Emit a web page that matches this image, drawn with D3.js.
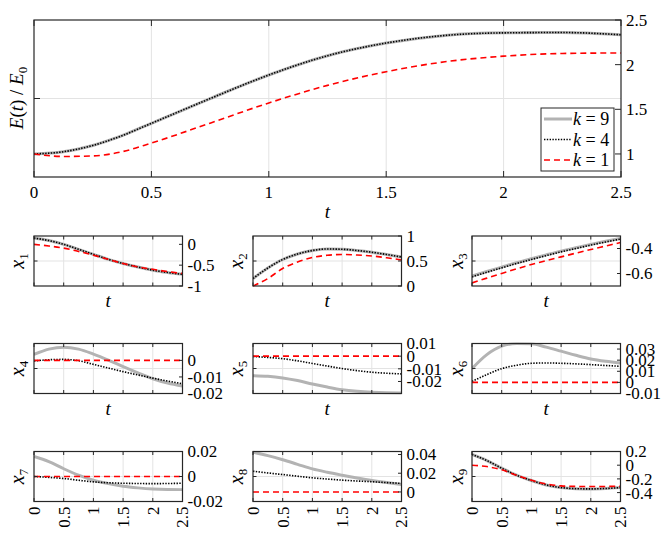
<!DOCTYPE html>
<html>
<head>
<meta charset="utf-8">
<script src="https://cdn.jsdelivr.net/npm/d3@7"></script>
<style>
  body { margin: 0; background: #fff; }
  svg { display: block; }
  text { font-family: "Liberation Serif", "DejaVu Serif", serif; fill: #000; }
</style>
</head>
<body>
<svg id="fig" width="664" height="534"></svg>
<script>
// time grids
const tEnergy = [0, 0.125, 0.25, 0.375, 0.5, 0.75, 1, 1.25, 1.5, 1.75, 2, 2.25, 2.5];
const tGrid = [0, 0.25, 0.5, 0.75, 1, 1.25, 1.5, 1.75, 2, 2.25, 2.5];
const xTicks = [0, 0.5, 1, 1.5, 2, 2.5];

// energy ratio E(t)/E0
const energyK9 = [1.0, 1.025, 1.095, 1.205, 1.343, 1.62, 1.884, 2.10, 2.242, 2.327, 2.356, 2.36, 2.334];
const energyK4 = [1.0, 1.025, 1.095, 1.205, 1.343, 1.62, 1.884, 2.10, 2.242, 2.327, 2.356, 2.36, 2.334];
const energyK1 = [1.0, 0.972, 0.978, 1.025, 1.122, 1.345, 1.571, 1.768, 1.921, 2.032, 2.095, 2.125, 2.131];
const energyTicks = [1, 1.5, 2, 2.5];

// states x1..x9 for k = 9, 4, 1
const x1K9 = [0.15, 0.09, 0.0, -0.12, -0.24, -0.36, -0.46, -0.545, -0.62, -0.675, -0.72];
const x1K4 = [0.15, 0.09, 0.0, -0.12, -0.24, -0.36, -0.46, -0.545, -0.62, -0.675, -0.72];
const x1K1 = [0.0, -0.04, -0.09, -0.17, -0.26, -0.36, -0.46, -0.54, -0.6, -0.655, -0.70];

const x2K9 = [0.15, 0.36, 0.53, 0.64, 0.71, 0.74, 0.735, 0.71, 0.675, 0.63, 0.58];
const x2K4 = [0.15, 0.36, 0.53, 0.64, 0.71, 0.74, 0.735, 0.71, 0.675, 0.63, 0.58];
const x2K1 = [0.0, 0.15, 0.35, 0.48, 0.57, 0.615, 0.63, 0.62, 0.6, 0.565, 0.52];

const x3K9 = [-0.621, -0.584, -0.549, -0.514, -0.482, -0.451, -0.421, -0.394, -0.367, -0.342, -0.319];
const x3K4 = [-0.627, -0.59, -0.555, -0.52, -0.488, -0.457, -0.427, -0.40, -0.373, -0.348, -0.325];
const x3K1 = [-0.675, -0.637, -0.6, -0.563, -0.528, -0.497, -0.467, -0.437, -0.408, -0.38, -0.352];

const x4K9 = [0.0036, 0.0068, 0.008, 0.0068, 0.0038, 0.0002, -0.0038, -0.0076, -0.0111, -0.0137, -0.0155];
const x4K4 = [-0.0004, 0.0004, 0.0006, -0.0002, -0.0024, -0.0046, -0.0068, -0.0088, -0.0107, -0.0125, -0.0141];
const x4K1 = [0, 0, 0, 0, 0, 0, 0, 0, 0, 0, 0];

const x5K9 = [-0.0154, -0.0159, -0.0172, -0.0193, -0.022, -0.0244, -0.0265, -0.0278, -0.0286, -0.029, -0.0291];
const x5K4 = [-0.0003, -0.001, -0.002, -0.0037, -0.0058, -0.0078, -0.0098, -0.0114, -0.0127, -0.0135, -0.014];
const x5K1 = [0, 0, 0, 0, 0, 0, 0, 0, 0, 0, 0];

const x6K9 = [0.0124, 0.025, 0.0326, 0.035, 0.0347, 0.0317, 0.0281, 0.0244, 0.0211, 0.019, 0.0175];
const x6K4 = [0.0009, 0.007, 0.0124, 0.0154, 0.0172, 0.0175, 0.0172, 0.0167, 0.016, 0.0152, 0.0145];
const x6K1 = [0, 0, 0, 0, 0, 0, 0, 0, 0, 0, 0];

const x7K9 = [0.016, 0.0119, 0.0062, 0.0011, -0.003, -0.0057, -0.0078, -0.0091, -0.010, -0.0104, -0.0105];
const x7K4 = [0, -0.0007, -0.0016, -0.003, -0.0043, -0.005, -0.0054, -0.0056, -0.0057, -0.0056, -0.0054];
const x7K1 = [0, 0, 0, 0, 0, 0, 0, 0, 0, 0, 0];

const x8K9 = [0.0425, 0.0388, 0.0344, 0.0295, 0.0246, 0.021, 0.0179, 0.015, 0.0123, 0.010, 0.008];
const x8K4 = [0.0221, 0.0203, 0.0186, 0.0168, 0.0151, 0.0138, 0.0126, 0.0117, 0.0109, 0.010, 0.0091];
const x8K1 = [0, 0, 0, 0, 0, 0, 0, 0, 0, 0, 0];

const x9K9 = [0.156, 0.068, -0.044, -0.146, -0.224, -0.288, -0.327, -0.343, -0.346, -0.34, -0.327];
const x9K4 = [0.156, 0.068, -0.044, -0.146, -0.224, -0.288, -0.327, -0.343, -0.346, -0.34, -0.327];
const x9K1 = [0.0, -0.02, -0.068, -0.146, -0.22, -0.273, -0.302, -0.31, -0.312, -0.31, -0.307];

// y limits and labelled ticks of each small panel
const stateDomains = [[-1, 0.2], [0, 1], [-0.7, -0.3], [-0.02, 0.0102], [-0.0295, 0.01],
                      [-0.01, 0.035], [-0.02, 0.02], [-0.0102, 0.0432], [-0.53, 0.2]];
const stateTicks = [[-1, -0.5, 0], [0, 0.5, 1], [-0.6, -0.4], [-0.02, -0.01, 0], [-0.02, -0.01, 0, 0.01],
                    [-0.01, 0, 0.01, 0.02, 0.03], [-0.02, 0, 0.02], [0, 0.02, 0.04], [-0.4, -0.2, 0, 0.2]];
const stateSeries = [[x1K9, x1K4, x1K1], [x2K9, x2K4, x2K1], [x3K9, x3K4, x3K1],
                     [x4K9, x4K4, x4K1], [x5K9, x5K4, x5K1], [x6K9, x6K4, x6K1],
                     [x7K9, x7K4, x7K1], [x8K9, x8K4, x8K1], [x9K9, x9K4, x9K1]];

const legendLabels = ['9', '4', '1'];

// line styles for k = 9, 4, 1
const styles = [
  { stroke: '#b3b3b3', width: 3, dash: null },
  { stroke: '#000', width: 1.6, dash: '1.4,1.4' },
  { stroke: '#ff0000', width: 1.6, dash: '6,4' }
];

const svg = d3.select('#fig');
const fmt = d => String(+d.toFixed(4));
let clipId = 0;

const panel = (p) => {
  const x = d3.scaleLinear().domain([0, 2.5]).range([p.left, p.left + p.w]);
  const y = d3.scaleLinear().domain(p.domain).range([p.top + p.h, p.top]);
  const yLeft = d3.scaleLinear().domain([0, 1]).range([p.top + p.h, p.top]);
  const g = svg.append('g');
  const tl = p.tickLen;

  g.append('rect')
    .attr('x', p.left).attr('y', p.top).attr('width', p.w).attr('height', p.h)
    .attr('fill', '#fff');

  // grid
  g.append('g').selectAll('line')
    .data(xTicks.slice(1, -1))
    .join('line')
    .attr('x1', d => x(d)).attr('x2', d => x(d))
    .attr('y1', p.top).attr('y2', p.top + p.h)
    .attr('stroke', '#e3e3e3').attr('stroke-width', 1);
  g.append('line')
    .attr('x1', p.left).attr('x2', p.left + p.w)
    .attr('y1', yLeft(0.5)).attr('y2', yLeft(0.5))
    .attr('stroke', '#e3e3e3').attr('stroke-width', 1);

  // curves
  const id = 'clip' + (clipId++);
  svg.append('clipPath').attr('id', id).append('rect')
    .attr('x', p.left).attr('y', p.top - 1).attr('width', p.w).attr('height', p.h + 2);
  const line = d3.line().x((d, i) => x(p.t[i])).y(d => y(d)).curve(d3.curveMonotoneX);
  g.append('g').attr('clip-path', `url(#${id})`)
    .selectAll('path')
    .data(p.series)
    .join('path')
    .attr('d', d => line(d))
    .attr('fill', 'none')
    .attr('stroke', (d, i) => styles[i].stroke)
    .attr('stroke-width', (d, i) => styles[i].width)
    .attr('stroke-dasharray', (d, i) => styles[i].dash);

  // inward ticks
  const tk = g.append('g').attr('stroke', '#262626').attr('stroke-width', 1);
  xTicks.forEach(v => {
    tk.append('line').attr('x1', x(v)).attr('x2', x(v)).attr('y1', p.top + p.h).attr('y2', p.top + p.h - tl);
    tk.append('line').attr('x1', x(v)).attr('x2', x(v)).attr('y1', p.top).attr('y2', p.top + tl);
  });
  tk.append('line').attr('x1', p.left).attr('x2', p.left + tl).attr('y1', yLeft(0.5)).attr('y2', yLeft(0.5));
  p.ticks.forEach(v => {
    tk.append('line').attr('x1', p.left + p.w).attr('x2', p.left + p.w - tl).attr('y1', y(v)).attr('y2', y(v));
  });

  // box
  g.append('rect')
    .attr('x', p.left).attr('y', p.top).attr('width', p.w).attr('height', p.h)
    .attr('fill', 'none').attr('stroke', '#262626').attr('stroke-width', 1.2);

  // right tick labels
  g.append('g').selectAll('text')
    .data(p.ticks)
    .join('text')
    .attr('x', p.left + p.w + 5)
    .attr('y', d => y(d))
    .attr('dy', '0.35em')
    .attr('font-size', p.fontSize)
    .text(fmt);

  // x tick labels
  if (p.xLabels === 'flat') {
    g.append('g').selectAll('text')
      .data(xTicks)
      .join('text')
      .attr('x', d => x(d))
      .attr('y', p.top + p.h + 21)
      .attr('text-anchor', 'middle')
      .attr('font-size', p.fontSize)
      .text(fmt);
  } else if (p.xLabels === 'rotated') {
    g.append('g').selectAll('text')
      .data(xTicks)
      .join('text')
      .attr('transform', d => `translate(${x(d)},${p.top + p.h + 5}) rotate(-90)`)
      .attr('text-anchor', 'end')
      .attr('dy', '0.35em')
      .attr('font-size', p.fontSize)
      .text(fmt);
  }

  // t label
  if (p.tLabelY) {
    g.append('text')
      .attr('x', p.left + p.w / 2)
      .attr('y', p.tLabelY)
      .attr('text-anchor', 'middle')
      .attr('font-size', 19)
      .attr('font-style', 'italic')
      .text('t');
  }
  return { x, y, g };
};

// top panel: energy
const energyPanel = panel({
  left: 34, top: 20, w: 587, h: 157, t: tEnergy,
  domain: [0.742, 2.5], ticks: energyTicks,
  series: [energyK9, energyK4, energyK1],
  tickLen: 6, fontSize: 17, xLabels: 'flat', tLabelY: 218
});

// y label E(t)/E0
const eLab = svg.append('text')
  .attr('transform', 'translate(23,98) rotate(-90)')
  .attr('text-anchor', 'middle')
  .attr('font-size', 19);
eLab.append('tspan').attr('font-style', 'italic').text('E');
eLab.append('tspan').text('(');
eLab.append('tspan').attr('font-style', 'italic').text('t');
eLab.append('tspan').text(') / ');
eLab.append('tspan').attr('font-style', 'italic').text('E');
eLab.append('tspan').attr('font-size', 13).attr('dy', 4).text('0');

// legend
const lg = svg.append('g').attr('transform', 'translate(541,108)');
lg.append('rect').attr('width', 73).attr('height', 63)
  .attr('fill', '#fff').attr('stroke', '#262626').attr('stroke-width', 1);
legendLabels.forEach((lab, i) => {
  const yy = 11 + i * 20.5;
  lg.append('line').attr('x1', 3).attr('x2', 31).attr('y1', yy).attr('y2', yy)
    .attr('stroke', styles[i].stroke).attr('stroke-width', styles[i].width)
    .attr('stroke-dasharray', styles[i].dash);
  const tx = lg.append('text').attr('x', 32).attr('y', yy).attr('dy', '0.35em').attr('font-size', 18);
  tx.append('tspan').attr('font-style', 'italic').text('k');
  tx.append('tspan').text(' = ' + lab);
});

// 3x3 state panels
const colLeft = [34, 253, 472];
const rowTop = [236, 343.5, 451.5];
const labelX = [18, 237, 457];
const tLabelRows = [307, 415, null];

stateSeries.forEach((series, i) => {
  const r = Math.floor(i / 3), c = i % 3;
  panel({
    left: colLeft[c], top: rowTop[r], w: 148.5, h: 50, t: tGrid,
    domain: stateDomains[i], ticks: stateTicks[i], series,
    tickLen: 3.5, fontSize: 17,
    xLabels: r === 2 ? 'rotated' : 'none',
    tLabelY: tLabelRows[r]
  });
  const lab = svg.append('text')
    .attr('transform', `translate(${labelX[c] + 6},${rowTop[r] + 25}) rotate(-90)`)
    .attr('text-anchor', 'middle')
    .attr('font-size', 20);
  lab.append('tspan').attr('font-style', 'italic').text('x');
  lab.append('tspan').attr('font-size', 13).attr('dy', 4).text(String(i + 1));
});
</script>
</body>
</html>
